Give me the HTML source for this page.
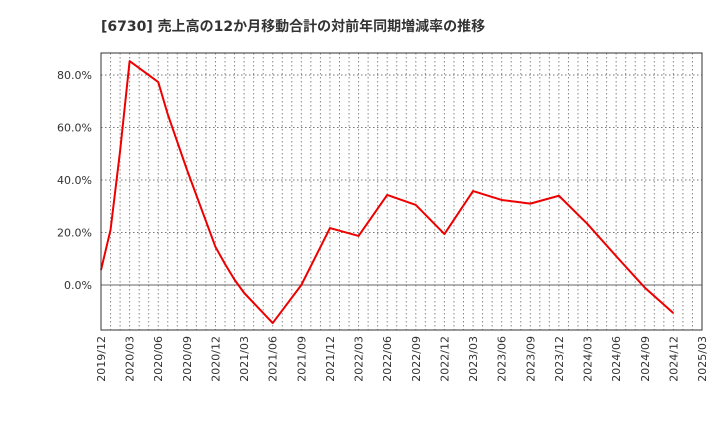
<!DOCTYPE html>
<html><head><meta charset="utf-8"><style>
body{margin:0;background:#fff;font-family:"DejaVu Sans","Noto Sans CJK JP",sans-serif;}
</style></head><body>
<svg id="chart" width="720" height="440" xmlns="http://www.w3.org/2000/svg" style="font-family:'DejaVu Sans','Noto Sans CJK JP',sans-serif">
<text x="101" y="31" font-size="14" font-weight="bold" fill="#333">[6730]  売上高の12か月移動合計の対前年同期増減率の推移</text>
<g id="grid"></g>
<g id="axes"></g>
<polyline id="line" fill="none" stroke="#ee0000" stroke-width="2" stroke-linejoin="round"/>
<rect x="101" y="53" width="601" height="277" fill="none" stroke="#333" stroke-width="1"/>
</svg>
<script>
const monthIdx=[0,1,2,3,6,7,9,12,13,14,15,18,21,24,27,30,33,36,39,42,45,48,51,54,57,60];
const values=[5.7,21,51,85.3,77.3,65,44,14.5,8,2,-3,-14.5,0,21.7,18.7,34.3,30.5,19.4,35.8,32.4,31,34,23.2,11,-1,-10.7];
const yTicks=[0,20,40,60,80];
const xTickLabels=["2019/12","2020/03","2020/06","2020/09","2020/12","2021/03","2021/06","2021/09","2021/12","2022/03","2022/06","2022/09","2022/12","2023/03","2023/06","2023/09","2023/12","2024/03","2024/06","2024/09","2024/12","2025/03"];
const x0=101,x1=702,y0=53,y1=330,totalMonths=63;
const X=m=>x0+(x1-x0)*m/totalMonths;
const Y=v=>285-v*52.5/20;
const NS="http://www.w3.org/2000/svg";
const grid=document.getElementById('grid'),axes=document.getElementById('axes');
for(let m=1;m<totalMonths;m++){
  const l=document.createElementNS(NS,'line');
  
  
  l.setAttribute('x1',X(m));l.setAttribute('x2',X(m));l.setAttribute('y1',y0);l.setAttribute('y2',y1);
  l.setAttribute('stroke','#888');l.setAttribute('stroke-dasharray','1.5,2.5');l.setAttribute('stroke-width','1');
  grid.appendChild(l);
}
yTicks.forEach(v=>{
  const l=document.createElementNS(NS,'line');
  
  
  l.setAttribute('x1',x0);l.setAttribute('x2',x1);l.setAttribute('y1',Y(v));l.setAttribute('y2',Y(v));
  l.setAttribute('stroke',v===0?'#666':'#777');
  if(v!==0)l.setAttribute('stroke-dasharray','1.5,2.5');
  grid.appendChild(l);
  const t=document.createElementNS(NS,'text');
  
  
  t.setAttribute('x',92);t.setAttribute('y',Y(v)+4);t.setAttribute('text-anchor','end');
  t.setAttribute('font-size','11');t.setAttribute('fill','#333');
  t.textContent=v.toFixed(1)+'%';
  axes.appendChild(t);
});
xTickLabels.forEach((s,i)=>{
  const x=X(i*3);
  const t=document.createElementNS(NS,'text');
  
  
  t.setAttribute('transform',`translate(${x+4},${y1+6}) rotate(-90)`);
  t.setAttribute('text-anchor','end');t.setAttribute('font-size','11');t.setAttribute('fill','#333');
  t.textContent=s;
  axes.appendChild(t);
});
document.getElementById('line').setAttribute('points',monthIdx.map((m,i)=>X(m)+','+Y(values[i])).join(' '));
</script>
</body></html>
